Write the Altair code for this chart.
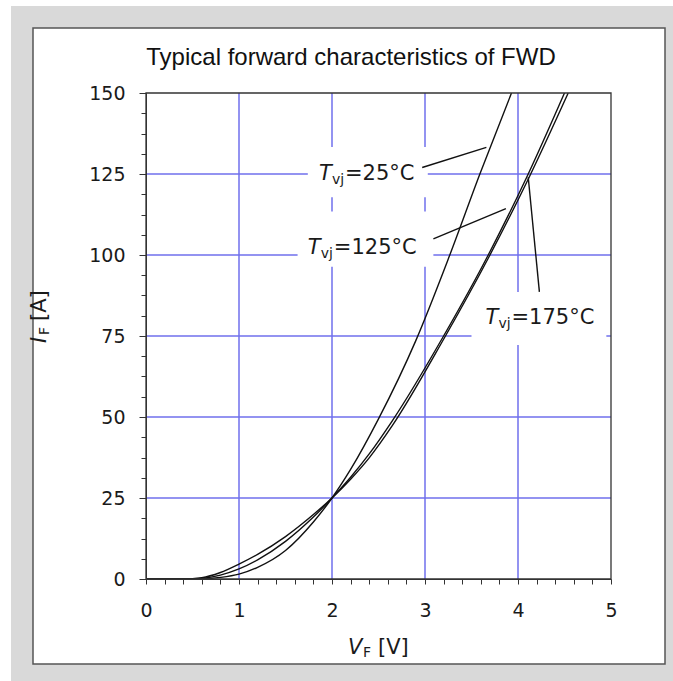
import altair as alt
import pandas as pd

# ---------------- data ----------------
V_25 = [0.0, 0.5, 0.7, 0.8, 1.0, 1.2, 1.5, 1.8, 2.0, 2.2, 2.5, 2.9, 3.26, 3.59, 3.93]
I_25 = [0.0, 0.0, 0.2, 0.5, 1.5, 3.6, 8.8, 17.6, 25.0, 33.8, 49.4, 73.5, 99.5, 125.0, 150.0]

V_125 = [0.0, 0.45, 0.6, 0.8, 1.0, 1.2, 1.5, 1.8, 2.0, 2.2, 2.4, 2.65, 3.2, 3.68, 4.11, 4.50]
I_125 = [0.0, 0.0, 0.2, 1.2, 3.1, 5.9, 11.6, 19.1, 25.0, 31.4, 38.6, 48.9, 75.0, 100.0, 125.0, 150.0]

V_175 = [0.0, 0.4, 0.6, 0.8, 1.0, 1.2, 1.5, 1.8, 2.0, 2.2, 2.4, 2.65, 3.2, 3.68, 4.12, 4.54]
I_175 = [0.0, 0.0, 0.4, 2.0, 4.6, 7.6, 13.1, 19.9, 25.0, 30.8, 37.4, 47.4, 74.0, 99.0, 124.0, 150.0]

GRID_V = [1, 2, 3, 4]
GRID_I = [25, 50, 75, 100, 125]

X_TICKS = [round(i * 0.2, 1) for i in range(26)]
Y_TICKS = [i * 6.25 for i in range(25)]

# label annotations (data coordinates)
LABEL_TEMP = ["=25°C", "=125°C", "=175°C"]
LABEL_V = [1.86, 1.74, 3.65]
LABEL_I = [125.0, 102.3, 80.6]
BOX_V1 = [1.74, 1.63, 3.50]
BOX_V2 = [3.03, 3.09, 4.95]
BOX_I1 = [117.8, 96.4, 72.2]
BOX_I2 = [133.3, 113.4, 88.6]
LEAD_V1 = [2.97, 3.09, 4.23]
LEAD_I1 = [127.0, 105.0, 88.6]
LEAD_V2 = [3.66, 3.87, 4.11]
LEAD_I2 = [133.2, 114.3, 124.0]

TITLE = "Typical forward characteristics of FWD"

# ---------------- layout ----------------
W, H = 465, 486
PL, PT = 146, 93
PR = 673 - PL - W
PB = 681 - PT - H

curves = pd.DataFrame(
    [{"V": v, "I": i, "s": "25"} for v, i in zip(V_25, I_25)]
    + [{"V": v, "I": i, "s": "125"} for v, i in zip(V_125, I_125)]
    + [{"V": v, "I": i, "s": "175"} for v, i in zip(V_175, I_175)]
)
labels = pd.DataFrame({
    "temp": LABEL_TEMP, "V": LABEL_V, "I": LABEL_I,
    "bv1": BOX_V1, "bv2": BOX_V2, "bi1": BOX_I1, "bi2": BOX_I2,
    "lv1": LEAD_V1, "li1": LEAD_I1, "lv2": LEAD_V2, "li2": LEAD_I2,
})

xs = alt.Scale(domain=[0, 5], nice=False, zero=False)
ys = alt.Scale(domain=[0, 150], nice=False)

FONT = "DejaVu Sans"
TXT = "#1a1a1a"
one = pd.DataFrame({"a": [0]})

# background decorations (pixel positions relative to plot origin)
gray_bg = alt.Chart(one).mark_rect(color="#d9d9d9").encode(
    x=alt.value(11 - PL), x2=alt.value(673 - PL),
    y=alt.value(6 - PT), y2=alt.value(681 - PT),
)
panel = alt.Chart(one).mark_rect(
    fill="white", stroke="#555555", strokeWidth=1.5
).encode(
    x=alt.value(33 - PL), x2=alt.value(665 - PL),
    y=alt.value(28 - PT), y2=alt.value(664 - PT),
)
frame = alt.Chart(one).mark_rect(
    fill=None, stroke="#333333", strokeWidth=1.3
).encode(
    x=alt.value(0), x2=alt.value(W), y=alt.value(0), y2=alt.value(H),
)

title = alt.Chart(pd.DataFrame({"t": [TITLE]})).mark_text(
    font="Liberation Sans", fontSize=24, color="#111111", align="center", baseline="middle"
).encode(x=alt.value(351 - PL), y=alt.value(58 - PT), text="t:N")

xaxis = alt.Axis(
    values=X_TICKS, tickCount=200, tickMinStep=0.1,
    labelExpr="abs(datum.value - round(datum.value)) < 0.001 ? format(datum.value, 'd') : ''",
    grid=False, tickSize=5, tickColor="#333333", domainColor="#333333",
    labelFont=FONT, labelFontSize=19, labelColor=TXT, labelPadding=17,
    title=None, labelFlush=False, labelOverlap=False, zindex=1,
)
yaxis = alt.Axis(
    values=Y_TICKS, tickCount=200, tickMinStep=0.1,
    labelExpr="datum.value % 25 == 0 ? format(datum.value, 'd') : ''",
    grid=False,
    tickSize={"condition": {"test": "datum.value % 25 == 0", "value": 7}, "value": 5},
    tickColor="#333333", domainColor="#333333",
    labelFont=FONT, labelFontSize=19, labelColor=TXT, labelPadding=14,
    title=None, labelFlush=False, labelOverlap=False, zindex=1,
)

base_axes = alt.Chart(curves).mark_point(opacity=0).encode(
    x=alt.X("V:Q", scale=xs, axis=xaxis),
    y=alt.Y("I:Q", scale=ys, axis=yaxis),
)

GRID_COLOR = "#6f6fec"
vgrid = alt.Chart(pd.DataFrame({"V": GRID_V})).mark_rule(color=GRID_COLOR, strokeWidth=1.5).encode(
    x=alt.X("V:Q", scale=xs, axis=xaxis)
)
hgrid = alt.Chart(pd.DataFrame({"I": GRID_I})).mark_rule(color=GRID_COLOR, strokeWidth=1.5).encode(
    y=alt.Y("I:Q", scale=ys, axis=yaxis)
)

boxes = alt.Chart(labels).mark_rect(fill="white").encode(
    x=alt.X("bv1:Q", scale=xs), x2="bv2:Q",
    y=alt.Y("bi1:Q", scale=ys), y2="bi2:Q",
)

lines = alt.Chart(curves).mark_line(color="#111111", strokeWidth=1.4, interpolate="monotone", clip=True).encode(
    x=alt.X("V:Q", scale=xs),
    y=alt.Y("I:Q", scale=ys),
    detail="s:N",
)

leaders = alt.Chart(labels).mark_rule(color="#111111", strokeWidth=1.4).encode(
    x=alt.X("lv1:Q", scale=xs), y=alt.Y("li1:Q", scale=ys),
    x2="lv2:Q", y2="li2:Q",
)

lab_T = alt.Chart(labels).mark_text(
    text="T", font=FONT, fontStyle="italic", fontSize=21, color=TXT, align="left", baseline="middle"
).encode(x=alt.X("V:Q", scale=xs), y=alt.Y("I:Q", scale=ys))
lab_vj = alt.Chart(labels).mark_text(
    text="vj", font=FONT, fontSize=14, color=TXT, align="left", baseline="middle", dx=13, dy=6
).encode(x=alt.X("V:Q", scale=xs), y=alt.Y("I:Q", scale=ys))
lab_rest = alt.Chart(labels).mark_text(
    font=FONT, fontSize=21, color=TXT, align="left", baseline="middle", dx=26
).encode(x=alt.X("V:Q", scale=xs), y=alt.Y("I:Q", scale=ys), text="temp:N")

# axis titles
xt_V = alt.Chart(one).mark_text(text="V", font=FONT, fontStyle="italic", fontSize=21, color=TXT,
                                align="left", baseline="middle").encode(
    x=alt.value(348 - PL), y=alt.value(648 - PT))
xt_F = alt.Chart(one).mark_text(text="F", font=FONT, fontSize=14, color=TXT,
                                align="left", baseline="middle", dx=15, dy=5).encode(
    x=alt.value(348 - PL), y=alt.value(648 - PT))
xt_U = alt.Chart(one).mark_text(text="[V]", font=FONT, fontSize=21, color=TXT,
                                align="left", baseline="middle", dx=30).encode(
    x=alt.value(348 - PL), y=alt.value(648 - PT))

yt_I = alt.Chart(one).mark_text(text="I", font=FONT, fontStyle="italic", fontSize=21, color=TXT,
                                align="left", baseline="middle", angle=270).encode(
    x=alt.value(40 - PL), y=alt.value(343 - PT))
yt_F = alt.Chart(one).mark_text(text="F", font=FONT, fontSize=14, color=TXT,
                                align="left", baseline="middle", angle=270, dx=8, dy=5).encode(
    x=alt.value(40 - PL), y=alt.value(343 - PT))
yt_U = alt.Chart(one).mark_text(text="[A]", font=FONT, fontSize=21, color=TXT,
                                align="left", baseline="middle", angle=270, dx=22).encode(
    x=alt.value(40 - PL), y=alt.value(343 - PT))

chart = alt.layer(
    gray_bg, panel, title, vgrid, hgrid, base_axes, boxes, lines, leaders, frame,
    lab_T, lab_vj, lab_rest, xt_V, xt_F, xt_U, yt_I, yt_F, yt_U,
).properties(
    width=W, height=H,
    autosize=alt.AutoSizeParams(type="none"),
    padding={"left": PL, "top": PT, "right": PR, "bottom": PB},
    background="white",
).configure_view(
    stroke=None,
)

chart.save("out.html", embed_options={"renderer": "svg", "actions": False})
